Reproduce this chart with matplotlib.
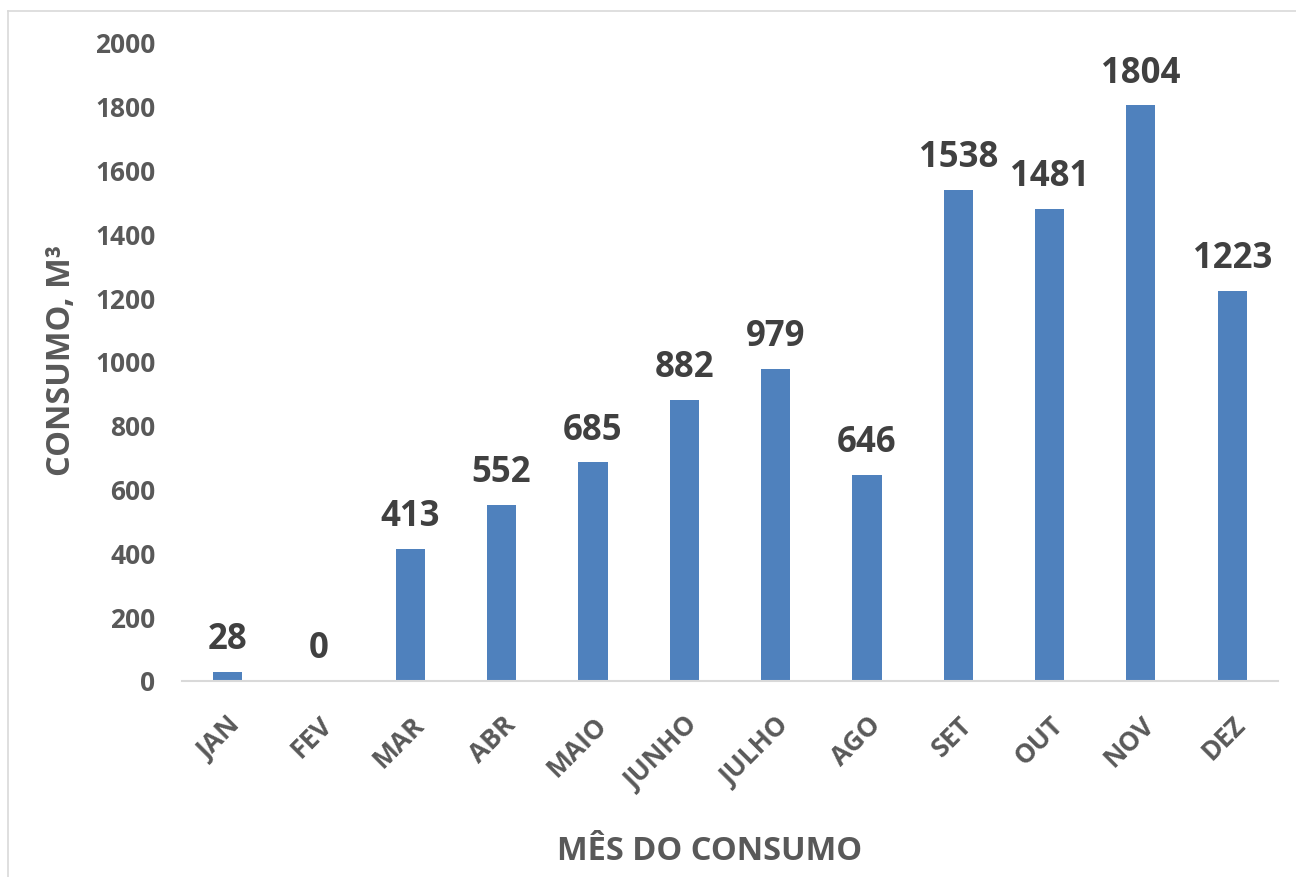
import matplotlib
matplotlib.use("Agg")
import matplotlib.pyplot as plt
from matplotlib.lines import Line2D

months = ["JAN", "FEV", "MAR", "ABR", "MAIO", "JUNHO", "JULHO", "AGO", "SET", "OUT", "NOV", "DEZ"]
consumo = [28, 0, 413, 552, 685, 882, 979, 646, 1538, 1481, 1804, 1223]
yticks = [0, 200, 400, 600, 800, 1000, 1200, 1400, 1600, 1800, 2000]

plt.rcParams["font.family"] = ["Open Sans", "DejaVu Sans"]

fig = plt.figure(figsize=(12.96, 8.77), dpi=100)
ax = fig.add_axes([0.1404, 0.2235, 0.8456, 0.7275])

x = range(len(months))
ax.bar(x, consumo, width=0.32, color="#4F81BD")

for xi, v in zip(x, consumo):
    ax.annotate(str(v), (xi, v), xytext=(0, 10), textcoords="offset points",
                ha="center", va="bottom", fontsize=25, fontweight="bold", color="#404040")

ax.set_xlim(-0.5, len(months) - 0.5)
ax.set_ylim(0, 2000)
ax.set_yticks(yticks)
ax.set_yticklabels([str(t) for t in yticks], fontsize=19, fontweight="bold", color="#595959")
ax.set_xticks(list(x))
ax.set_xticklabels(months, rotation=45, ha="right", rotation_mode="anchor",
                   fontsize=19, fontweight="bold", color="#595959")
ax.tick_params(axis="both", length=0)
ax.tick_params(axis="y", pad=19)
ax.tick_params(axis="x", pad=22)

for side in ["left", "right", "top"]:
    ax.spines[side].set_visible(False)
ax.spines["bottom"].set_color("#D9D9D9")
ax.spines["bottom"].set_linewidth(1.5)

fig.text(710 / 1296, 1 - 852 / 877, "MÊS DO CONSUMO", ha="center", va="center",
         fontsize=23.5, fontweight="bold", color="#595959")
fig.text(62 / 1296, 1 - 360 / 877, "CONSUMO, M³", ha="center", va="center", rotation=90,
         fontsize=23.5, fontweight="bold", color="#595959")

# chart area border (left and top edges visible)
fig.add_artist(Line2D([8 / 1296, 8 / 1296], [0, 1 - 11 / 877], transform=fig.transFigure,
                      color="#D9D9D9", linewidth=1.2))
fig.add_artist(Line2D([8 / 1296, 1], [1 - 11 / 877, 1 - 11 / 877], transform=fig.transFigure,
                      color="#D9D9D9", linewidth=1.2))

fig.savefig("out.png", dpi=100)
